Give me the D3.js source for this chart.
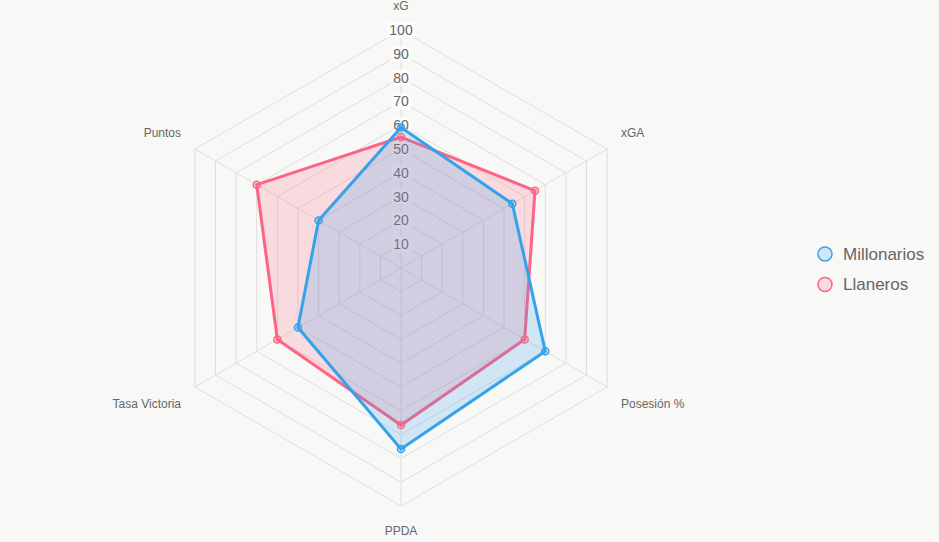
<!DOCTYPE html>
<html><head><meta charset="utf-8">
<script src="https://cdn.jsdelivr.net/npm/d3@7"></script>
<style>html,body{margin:0;padding:0;background:#f8f8f7;}svg{display:block;}</style>
</head><body><svg id="c" width="939" height="542"></svg>
<script>
const axes = ["xG","xGA","Posesión %","PPDA","Tasa Victoria","Puntos"];
const seriesNames = ["Millonarios","Llaneros"];
const millonarios = [59,54,70,76,50,40];
const llaneros = [55,65,60,66,60,70];
const ticks = [10,20,30,40,50,60,70,80,90,100];
const strokeColors = ["rgb(54,162,235)","rgb(255,99,132)"];
const fillColors = ["rgba(54,162,235,0.2)","rgba(255,99,132,0.2)"];

const svg = d3.select("#c");
const cx = 401, cy = 268, R = 238;
const rScale = d3.scaleLinear().domain([0,100]).range([0,R]);
const ang = d3.scaleLinear().domain([0, axes.length]).range([0, 2*Math.PI]);
const pt = (i, v) => [cx + rScale(v)*Math.sin(ang(i)), cy - rScale(v)*Math.cos(ang(i))];
const g = svg.append("g");
const font = "'Liberation Sans', Arial, Helvetica, sans-serif";

// grid hexagons
ticks.forEach(t => {
  const pts = axes.map((a,i)=>pt(i,t));
  g.append("polygon").attr("points", pts.map(p=>p.join(",")).join(" "))
    .attr("fill","none").attr("stroke","#dedede").attr("stroke-width",1);
});
// angle lines
axes.forEach((a,i)=>{
  const p = pt(i,100);
  g.append("line").attr("x1",cx).attr("y1",cy).attr("x2",p[0]).attr("y2",p[1])
    .attr("stroke","#dedede").attr("stroke-width",1);
});

// tick labels (drawn under datasets)
ticks.forEach(t=>{
  const y = cy - rScale(t);
  const txt = g.append("text").attr("x",cx).attr("y",y).attr("text-anchor","middle")
    .attr("dominant-baseline","central").attr("font-family",font).attr("font-size",14)
    .attr("fill","#666").text(t);
  const bb = txt.node().getBBox();
  g.insert("rect", () => txt.node()).attr("x",bb.x-2).attr("y",y-8).attr("width",bb.width+4).attr("height",16)
    .attr("fill","rgba(255,255,255,0.75)");
});

// point labels
axes.forEach((a,i)=>{
  const rr = R + 16;
  const an = ang(i);
  let x = cx + rr*Math.sin(an), y = cy - rr*Math.cos(an);
  const s = Math.sin(an), c = Math.cos(an);
  const anchor = Math.abs(s) < 0.01 ? "middle" : (s > 0 ? "start" : "end");
  y += (c > 0 ? -8 : 9);
  g.append("text").attr("x",x).attr("y",y).attr("text-anchor",anchor)
    .attr("dominant-baseline","central").attr("font-family",font).attr("font-size",12)
    .attr("fill","#666").text(a);
});

// datasets (draw second first so first on top)
const data = [millonarios, llaneros];
const line = d3.lineRadial().angle((d,i)=>ang(i)).radius(d=>rScale(d)).curve(d3.curveLinearClosed);
[1,0].forEach(k=>{
  g.append("path").attr("transform",`translate(${cx},${cy})`).attr("d", line(data[k]))
    .attr("fill", fillColors[k]).attr("stroke", strokeColors[k]).attr("stroke-width",3)
    .attr("stroke-linejoin","miter");
});
[1,0].forEach(k=>{
  data[k].forEach((v,i)=>{
    const p = pt(i,v);
    g.append("circle").attr("cx",p[0]).attr("cy",p[1]).attr("r",3.5)
      .attr("fill",fillColors[k]).attr("stroke",strokeColors[k]).attr("stroke-width",1.5);
  });
});

// legend
seriesNames.forEach((n,k)=>{
  const y = 254 + k*30.5;
  svg.append("circle").attr("cx",825).attr("cy",y).attr("r",7)
    .attr("fill",fillColors[k]).attr("stroke",strokeColors[k]).attr("stroke-width",1.5);
  svg.append("text").attr("x",843).attr("y",y).attr("dominant-baseline","central")
    .attr("font-family",font).attr("font-size",17).attr("fill","#666").text(n);
});
</script></body></html>
